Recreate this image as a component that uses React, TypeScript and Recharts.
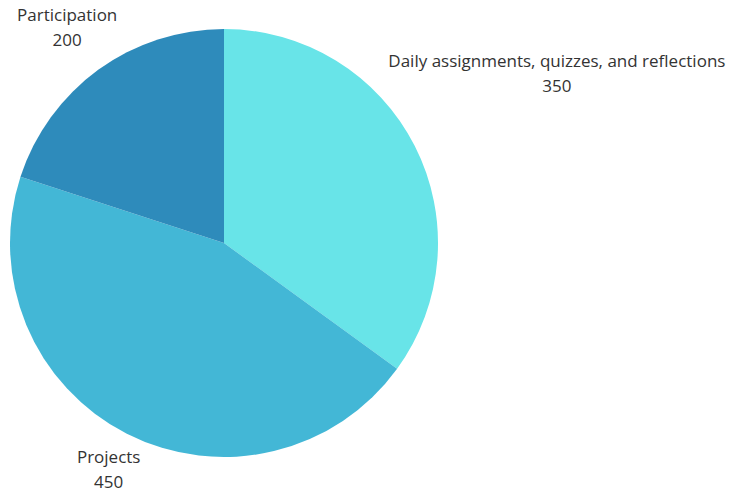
import { PieChart, Pie, Cell } from "recharts"

const categories = ["Daily assignments, quizzes, and reflections", "Projects", "Participation"]
const points = [350, 450, 200]
const colors = ["#68e4e8", "#43b7d6", "#2e8bbb"]

const data = categories.map((name, i) => ({ name, value: points[i] }))

const RADIAN = Math.PI / 180
const FONT = "17px 'Open Sans'"

function textWidth(s: string) {
  const ctx = document.createElement("canvas").getContext("2d")
  if (!ctx) return s.length * 8
  ctx.font = FONT
  return ctx.measureText(s).width
}

function renderLabel(props: any) {
  const { cx, cy, midAngle, outerRadius, name, value } = props
  const halfW = textWidth(name) / 2
  const cos = Math.cos(-midAngle * RADIAN)
  const sin = Math.sin(-midAngle * RADIAN)
  const d = outerRadius + 16 + 0.92 * halfW * Math.abs(cos) + 12 * Math.abs(sin)
  const x = cx + d * cos
  const y = cy + d * sin
  return (
    <text x={x} y={y} textAnchor="middle" fill="#333333" style={{ font: FONT }}>
      <tspan x={x} dy={-6}>{name}</tspan>
      <tspan x={x} dy={25}>{value}</tspan>
    </text>
  )
}

export default function App() {
  return (
    <div style={{ position: "absolute", left: 0, top: 0, width: 734, height: 491, background: "#fff" }}>
      <PieChart width={734} height={491} margin={{ top: 0, right: 0, bottom: 0, left: 0 }}>
        <Pie
          data={data}
          dataKey="value"
          nameKey="name"
          cx={224}
          cy={243}
          outerRadius={214}
          startAngle={90}
          endAngle={-270}
          stroke="none"
          labelLine={false}
          label={renderLabel}
          isAnimationActive={false}
        >
          {data.map((d, i) => (
            <Cell key={d.name} fill={colors[i]} />
          ))}
        </Pie>
      </PieChart>
    </div>
  )
}
